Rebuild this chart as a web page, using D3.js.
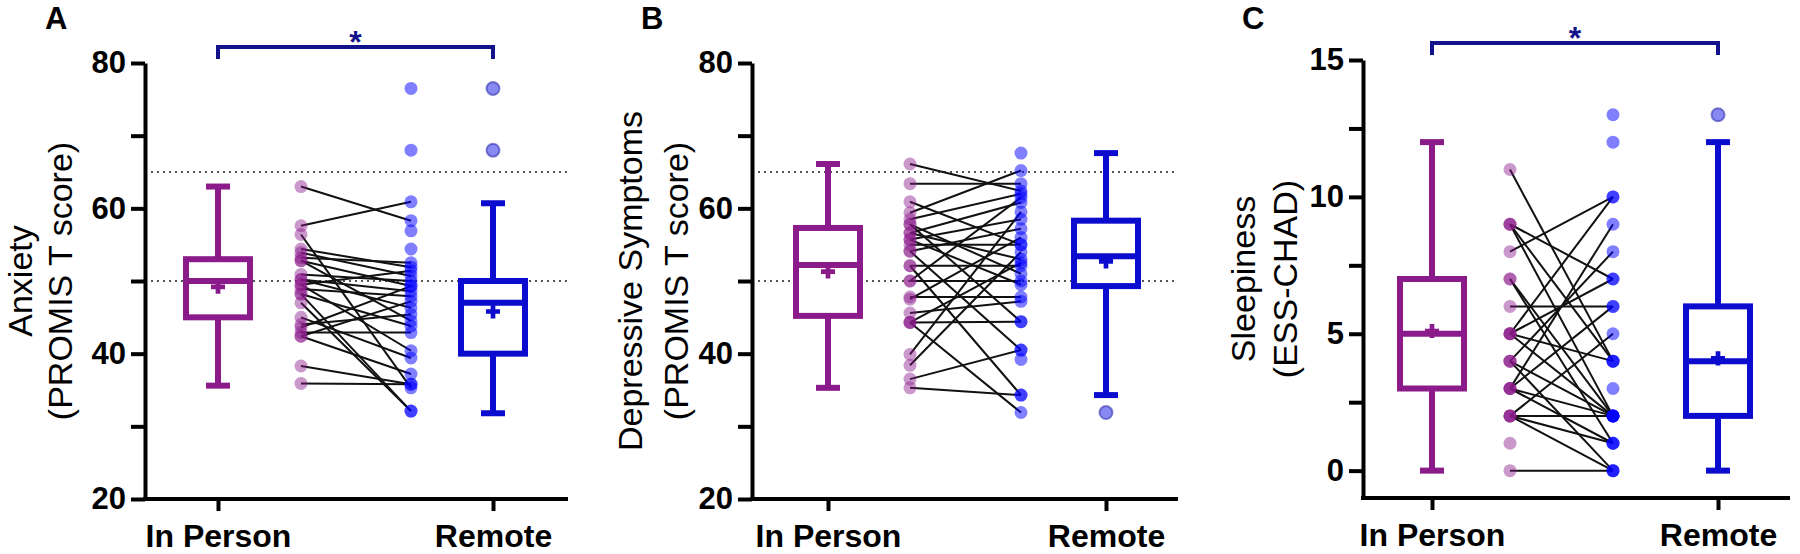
<!DOCTYPE html>
<html>
<head>
<meta charset="utf-8">
<script src="https://cdn.jsdelivr.net/npm/d3@7"></script>
<style>
body { margin: 0; background: #fff; }
svg text { font-family: "Liberation Sans", Arial, sans-serif; }
</style>
</head>
<body>
<div id="chart"></div>
<script>
var categories = ["In Person", "Remote"];

// A - anxiety (PROMIS T score), paired participants: in person -> remote
var anxietyPre  = [63, 57.6, 56.4, 54.4, 53.9, 53.2, 52.8, 52.8, 50.9, 50.2, 50.2, 49.5, 49.5,
                   48.9, 48.2, 48.2, 47.0, 45.0, 43.6, 44.0, 42.9, 42.4, 42.4, 38.3, 35.9];
var anxietyPost = [58.3, 60.9, 35.3, 51.9, 50.7, 52.5, 49.3, 44.5, 50.0, 48.6, 46.3, 51.4, 40.4,
                   47.9, 32.1, 43.8, 32.1, 39.4, 49.3, 45.4, 42.9, 47.2, 37.2, 35.8, 35.8];
var anxietyPostOnly = [76.5, 68, 56.9, 54.4];
var anxietyBoxIn = [35.6, 45, 50, 53, 63];        // whisker low, Q1, median, Q3, whisker high
var anxietyBoxRemote = [31.8, 40, 47, 50, 60.7];
var anxietyMeans = [49.2, 45.8];
var anxietyOutliers = [76.5, 68];

// B - depressive symptoms (PROMIS T score)
var depPre  = [66.1, 63.4, 60.9, 59.4, 58.5, 57.8, 57.8, 56.6, 56.6, 55.7, 55.7, 55.0, 54.1, 54.1,
               52.1, 52.1, 50.0, 50.0, 47.8, 47.5, 45.6, 44.3, 44.3, 44.3, 39.9, 38.4, 36.5, 35.3];
var depPost = [62.4, 63.4, 55.0, 65.2, 62.0, 51.0, 44.4, 60.8, 53.0, 58.5, 49.5, 55.0, 57.2, 40.5,
               52.1, 34.3, 50.0, 61.5, 47.8, 56.0, 47.2, 44.4, 31.9, 52.5, 59.5, 54.0, 40.5, 34.3];
var depPostOnly = [67.6, 39.2];
var depBoxIn = [35.3, 45.2, 52.2, 57.3, 66.1];
var depBoxRemote = [34.3, 49.3, 53.4, 58.3, 67.6];
var depMeans = [51.3, 52.7];
var depOutliers = [31.9];

// C - sleepiness (ESS-CHAD)
var sleepPre  = [11, 9, 9, 9, 8, 7, 7, 6, 5, 5, 5, 5, 4, 4, 4, 3, 3, 3, 3, 2, 2, 2, 2, 0];
var sleepPost = [4, 7, 4, 2, 10, 2, 1, 6, 10, 4, 2, 7, 8, 2, 0, 9, 6, 1, 2, 5, 2, 1, 0, 0];
var sleepPreOnly = [1];
var sleepPostOnly = [13, 12, 3];
var sleepBoxIn = [0, 3, 5, 7, 12];
var sleepBoxRemote = [0, 2, 4, 6, 12];
var sleepMeans = [5.1, 4.1];
var sleepOutliers = [13];

var purple = "#8b1a8b", blue = "#0c0ccf", navy = "#12128a";

var svg = d3.select("#chart").append("svg")
    .attr("width", 1800)
    .attr("height", 554);

var panels = [
  {letter: "A", lx: 45, title: ["Anxiety", "(PROMIS T score)"], tx: [32, 72],
   axisX: 145, xEnd: 568, xs: [218, 301, 411, 493], top: 63, bottom: 499,
   domain: [20, 80], ticks: [20, 40, 60, 80], minor: [30, 50, 70], refs: [50, 65],
   pre: anxietyPre, post: anxietyPost, preOnly: [], postOnly: anxietyPostOnly,
   boxes: [anxietyBoxIn, anxietyBoxRemote], means: anxietyMeans, outliers: anxietyOutliers,
   bracket: 47},
  {letter: "B", lx: 641, title: ["Depressive Symptoms", "(PROMIS T score)"], tx: [642, 688],
   axisX: 752, xEnd: 1178, xs: [828, 910, 1021, 1106], top: 63, bottom: 499,
   domain: [20, 80], ticks: [20, 40, 60, 80], minor: [30, 50, 70], refs: [50, 65],
   pre: depPre, post: depPost, preOnly: [], postOnly: depPostOnly,
   boxes: [depBoxIn, depBoxRemote], means: depMeans, outliers: depOutliers,
   bracket: null},
  {letter: "C", lx: 1242, title: ["Sleepiness", "(ESS-CHAD)"], tx: [1255, 1297],
   axisX: 1363, xEnd: 1790, xs: [1432, 1510, 1613, 1718], top: 60, bottom: 498,
   domain: [-1, 15], ticks: [0, 5, 10, 15], minor: [2.5, 7.5, 12.5], refs: [],
   pre: sleepPre, post: sleepPost, preOnly: sleepPreOnly, postOnly: sleepPostOnly,
   boxes: [sleepBoxIn, sleepBoxRemote], means: sleepMeans, outliers: sleepOutliers,
   bracket: 43}
];

panels.forEach(drawPanel);

function drawPanel(p) {
  var g = svg.append("g");
  var y = d3.scaleLinear().domain(p.domain).range([p.bottom, p.top]);
  var x = d3.scaleOrdinal().domain(["in", "pre", "post", "remote"]).range(p.xs);
  var xCat = d3.scaleOrdinal().domain(categories).range([p.xs[0], p.xs[3]]);
  var colors = [purple, blue];

  // panel letter
  g.append("text").attr("x", p.lx).attr("y", 29)
    .attr("font-size", 31).attr("font-weight", "bold").text(p.letter);

  // y title, two lines rotated
  p.title.forEach(function(t, i) {
    g.append("text")
      .attr("transform", "translate(" + p.tx[i] + "," + ((p.top + p.bottom) / 2) + ") rotate(-90)")
      .attr("text-anchor", "middle")
      .attr("font-size", 34)
      .text(t);
  });

  // dotted reference lines
  g.selectAll(".ref").data(p.refs).enter().append("line")
    .attr("x1", p.axisX).attr("x2", p.xEnd)
    .attr("y1", function(d) { return y(d); })
    .attr("y2", function(d) { return y(d); })
    .attr("stroke", "#555").attr("stroke-width", 2)
    .attr("stroke-dasharray", "2,4");

  // y axis
  var ya = g.append("g").attr("transform", "translate(" + p.axisX + ",0)")
    .call(d3.axisLeft(y).tickValues(p.ticks).tickSize(14).tickSizeOuter(0).tickPadding(5));
  ya.select(".domain").attr("stroke-width", 4);
  ya.selectAll(".tick line").attr("stroke-width", 4);
  ya.selectAll(".tick text").attr("font-size", 31).attr("font-weight", "bold")
    .attr("font-family", "Liberation Sans, Arial, sans-serif").attr("fill", "#000");

  var ym = g.append("g").attr("transform", "translate(" + p.axisX + ",0)")
    .call(d3.axisLeft(y).tickValues(p.minor).tickSize(14).tickFormat(""));
  ym.select(".domain").remove();
  ym.selectAll(".tick line").attr("stroke-width", 4);

  // x axis
  var xa = g.append("g").attr("transform", "translate(0," + p.bottom + ")")
    .call(d3.axisBottom(xCat).tickSize(12).tickPadding(13));
  xa.select(".domain").remove();
  xa.selectAll(".tick line").attr("stroke-width", 4);
  xa.selectAll(".tick text").attr("font-size", 32).attr("font-weight", "bold")
    .attr("font-family", "Liberation Sans, Arial, sans-serif").attr("fill", "#000");
  g.append("line")
    .attr("x1", p.axisX - 2).attr("x2", p.xEnd)
    .attr("y1", p.bottom).attr("y2", p.bottom)
    .attr("stroke", "#000").attr("stroke-width", 4);

  // box plots
  var boxW = 64, capW = 24;
  p.boxes.forEach(function(b, i) {
    var cx = x(i === 0 ? "in" : "remote");
    var c = colors[i];
    var bg = g.append("g");
    bg.append("line").attr("x1", cx).attr("x2", cx)
      .attr("y1", y(b[0])).attr("y2", y(b[4]))
      .attr("stroke", c).attr("stroke-width", 6);
    bg.selectAll(".cap").data([b[0], b[4]]).enter().append("line")
      .attr("x1", cx - capW / 2).attr("x2", cx + capW / 2)
      .attr("y1", function(d) { return y(d); })
      .attr("y2", function(d) { return y(d); })
      .attr("stroke", c).attr("stroke-width", 6);
    bg.append("rect")
      .attr("x", cx - boxW / 2).attr("width", boxW)
      .attr("y", y(b[3])).attr("height", y(b[1]) - y(b[3]))
      .attr("fill", "#fff").attr("stroke", c).attr("stroke-width", 6);
    bg.append("line").attr("x1", cx - boxW / 2).attr("x2", cx + boxW / 2)
      .attr("y1", y(b[2])).attr("y2", y(b[2]))
      .attr("stroke", c).attr("stroke-width", 6);
    bg.append("path")
      .attr("d", d3.symbol(d3.symbolCross).size(110)())
      .attr("transform", "translate(" + cx + "," + y(p.means[i]) + ")")
      .attr("fill", c);
  });

  // outliers beside the remote box
  g.selectAll(".out").data(p.outliers).enter().append("circle")
    .attr("cx", x("remote")).attr("cy", function(d) { return y(d); })
    .attr("r", 6.5)
    .attr("fill", "rgba(20,20,230,0.5)")
    .attr("stroke", "rgba(40,40,170,0.55)").attr("stroke-width", 2);

  // paired lines
  g.selectAll(".pair").data(p.pre).enter().append("line")
    .attr("x1", x("pre")).attr("x2", x("post"))
    .attr("y1", function(d) { return y(d); })
    .attr("y2", function(d, i) { return y(p.post[i]); })
    .attr("stroke", "#111").attr("stroke-width", 2);

  // paired points
  g.selectAll(".ptPre").data(p.pre.concat(p.preOnly)).enter().append("circle")
    .attr("cx", x("pre")).attr("cy", function(d) { return y(d); })
    .attr("r", 6.5).attr("fill", purple).attr("fill-opacity", 0.45);
  g.selectAll(".ptPost").data(p.post.concat(p.postOnly)).enter().append("circle")
    .attr("cx", x("post")).attr("cy", function(d) { return y(d); })
    .attr("r", 6.5).attr("fill", "#0000ff").attr("fill-opacity", 0.5);

  // significance bracket
  if (p.bracket !== null) {
    var x1 = x("in"), x2 = x("remote"), by = p.bracket;
    g.append("path")
      .attr("d", "M" + x1 + "," + (by + 12) + "V" + by + "H" + x2 + "V" + (by + 12))
      .attr("fill", "none").attr("stroke", navy).attr("stroke-width", 4);
    g.append("text")
      .attr("x", (x1 + x2) / 2).attr("y", by + 6)
      .attr("text-anchor", "middle")
      .attr("font-size", 32).attr("font-weight", "bold")
      .attr("fill", navy).text("*");
  }
}
</script>
</body>
</html>
